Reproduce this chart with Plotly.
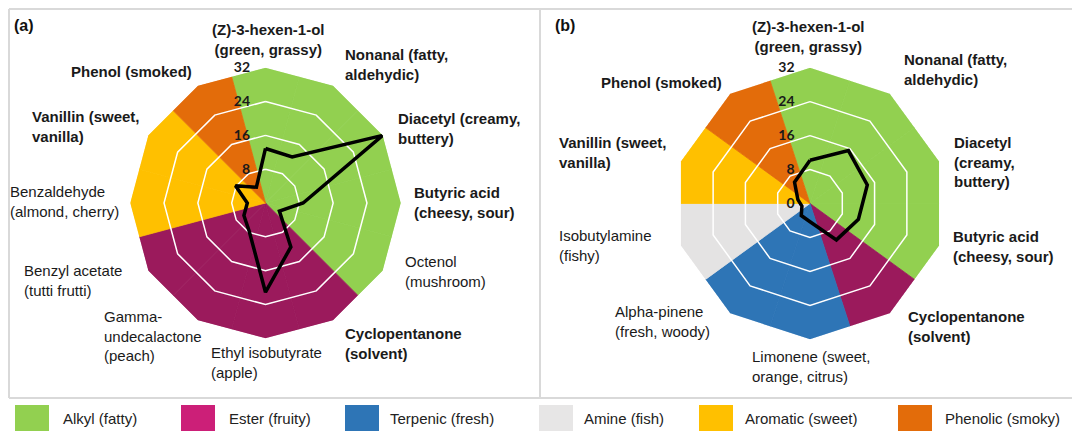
import plotly.graph_objects as go

# ---------------- data ----------------
cats_a = ["(Z)-3-hexen-1-ol", "Nonanal", "Diacetyl", "Butyric acid", "Octenol",
          "Cyclopentanone", "Ethyl isobutyrate", "Gamma-undecalactone",
          "Benzyl acetate", "Benzaldehyde", "Vanillin", "Phenol"]
labels_a = ["(Z)-3-hexen-1-ol<br>(green, grassy)", "Nonanal (fatty,<br>aldehydic)",
            "Diacetyl (creamy,<br>buttery)", "Butyric acid<br>(cheesy, sour)",
            "Octenol<br>(mushroom)", "Cyclopentanone<br>(solvent)",
            "Ethyl isobutyrate<br>(apple)", "Gamma-<br>undecalactone<br>(peach)",
            "Benzyl acetate<br>(tutti frutti)", "Benzaldehyde<br>(almond, cherry)",
            "Vanillin (sweet,<br>vanilla)", "Phenol (smoked)"]
groups_a = ["Alkyl", "Alkyl", "Alkyl", "Alkyl", "Alkyl",
            "Ester", "Ester", "Ester", "Ester",
            "Aromatic", "Aromatic", "Phenolic"]
values_a = [12.9, 12.6, 32, 8.9, 3.8, 12.0, 21.1, 7.7, 5.9, 4.3, 8.2, 4.3]

cats_b = ["(Z)-3-hexen-1-ol", "Nonanal", "Diacetyl", "Butyric acid", "Cyclopentanone",
          "Limonene", "Alpha-pinene", "Isobutylamine", "Vanillin", "Phenol"]
labels_b = ["(Z)-3-hexen-1-ol<br>(green, grassy)", "Nonanal (fatty,<br>aldehydic)",
            "Diacetyl<br>(creamy,<br>buttery)", "Butyric acid<br>(cheesy, sour)",
            "Cyclopentanone<br>(solvent)", "Limonene (sweet,<br>orange, citrus)",
            "Alpha-pinene<br>(fresh, woody)", "Isobutylamine<br>(fishy)",
            "Vanillin (sweet,<br>vanilla)", "Phenol (smoked)"]
groups_b = ["Alkyl", "Alkyl", "Alkyl", "Alkyl", "Ester",
            "Terpenic", "Terpenic", "Amine", "Aromatic", "Phenolic"]
values_b = [10.2, 15.4, 14.2, 12.0, 10.6, 4.3, 3.5, 2.0, 3.0, 6.2]

radial_max = 32
ring_values = [8, 16, 24]
ticks_a = [8, 16, 24, 32]
ticks_b = [0, 8, 16, 24, 32]

legend_groups = ["Alkyl", "Ester", "Terpenic", "Amine", "Aromatic", "Phenolic"]
legend_names = ["Alkyl (fatty)", "Ester (fruity)", "Terpenic (fresh)", "Amine (fish)",
                "Aromatic (sweet)", "Phenolic (smoky)"]

# ---------------- styles ----------------
W, H = 1080, 447
OFF = 8  # page body margin: figure origin sits 8px right/down in the window
sector_colors = {"Alkyl": "#92d050", "Ester": "#9b1a5c", "Terpenic": "#2e75b6",
                 "Amine": "#e4e3e3", "Aromatic": "#ffc000", "Phenolic": "#e36c0a"}
legend_colors = {"Alkyl": "#92d050", "Ester": "#cc1f78", "Terpenic": "#2e75b6",
                 "Amine": "#e7e6e6", "Aromatic": "#ffc000", "Phenolic": "#e36c0a"}
bold_a = [True, True, True, True, False, True, False, False, False, False, True, True]
bold_b = [True, True, True, True, True, False, False, False, True, True]
# label placement (window pixel x, pixel y of block centre, anchor)
place_a = [(268.5, 39.5, "center"), (343, 64, "left"), (396, 128, "left"),
           (412, 203, "left"), (403, 271.5, "left"), (343, 343, "left"),
           (209, 362.5, "left"), (102, 336, "left"), (22, 280, "left"),
           (8, 201.5, "left"), (30, 126.5, "left"), (69, 72, "left")]
place_b = [(808, 37, "center"), (902, 70, "left"), (952, 161.5, "left"),
           (951, 246, "left"), (906, 326.5, "left"), (750, 366, "left"),
           (613, 321.5, "left"), (557, 245.5, "left"), (557, 152.5, "left"),
           (599, 83, "left")]

def px(x):
    return (x - OFF) / W

def py(y):
    return 1 - (y - OFF) / H

fig = go.Figure()

def add_radar(subplot, cats, groups, vals):
    cols = [sector_colors[g] for g in groups]
    fig.add_trace(go.Barpolar(r=[radial_max] * len(cats), theta=cats, subplot=subplot,
                              marker=dict(color=cols, line=dict(color=cols, width=0.8)),
                              showlegend=False, hoverinfo="skip"))
    for rv in ring_values:
        fig.add_trace(go.Scatterpolar(r=[rv] * (len(cats) + 1), theta=cats + [cats[0]],
                                      subplot=subplot, mode="lines",
                                      line=dict(color="white", width=1.5),
                                      showlegend=False, hoverinfo="skip"))
    fig.add_trace(go.Scatterpolar(r=vals + [vals[0]], theta=cats + [cats[0]],
                                  subplot=subplot, mode="lines",
                                  line=dict(color="black", width=3.5),
                                  showlegend=False))

add_radar("polar", cats_a, groups_a, values_a)
add_radar("polar2", cats_b, groups_b, values_b)

def polar_layout(cx, cy, R, tickvals):
    return dict(
        domain=dict(x=[px(cx - R), px(cx + R)], y=[py(cy + R), py(cy - R)]),
        gridshape="linear", bgcolor="rgba(0,0,0,0)", bargap=0,
        angularaxis=dict(type="category", rotation=90, direction="clockwise",
                         showgrid=False, showline=False, showticklabels=False, ticks=""),
        radialaxis=dict(range=[0, radial_max], angle=90, tickangle=90,
                        tickvals=tickvals, showgrid=False, showline=False,
                        ticks="outside", ticklen=10, tickcolor="rgba(0,0,0,0)",
                        side="counterclockwise",
                        tickfont=dict(family="Lato, Liberation Sans", size=14,
                                      color="#1a1a1a", weight="bold")),
    )

def add_labels(labels, places, bolds):
    for txt, (x, y, anchor), b in zip(labels, places, bolds):
        fig.add_annotation(x=px(x), y=py(y), xref="paper", yref="paper", text=txt,
                           showarrow=False, xanchor=anchor, yanchor="middle", align=anchor,
                           font=dict(family="Liberation Sans, Arial", size=15,
                                     color="#1a1a1a", weight="bold" if b else "normal"))

add_labels(labels_a, place_a, bold_a)
add_labels(labels_b, place_b, bold_b)

for txt, x in [("(a)", 12), ("(b)", 553)]:
    fig.add_annotation(x=px(x), y=py(25), xref="paper", yref="paper", text=txt,
                       showarrow=False, xanchor="left", yanchor="middle",
                       font=dict(family="Liberation Sans, Arial", size=16,
                                 color="#111", weight="bold"))

# panel frames
frame_col = "#d9d9d9"
shapes = [
    dict(type="line", xref="paper", yref="paper", x0=px(9), x1=px(1077),
         y0=py(9), y1=py(9), line=dict(color=frame_col, width=2)),
    dict(type="line", xref="paper", yref="paper", x0=px(9), x1=px(1077),
         y0=py(398), y1=py(398), line=dict(color=frame_col, width=2)),
    dict(type="line", xref="paper", yref="paper", x0=px(9), x1=px(9),
         y0=py(398), y1=py(9), line=dict(color=frame_col, width=2)),
    dict(type="line", xref="paper", yref="paper", x0=px(1077), x1=px(1077),
         y0=py(398), y1=py(9), line=dict(color=frame_col, width=2)),
    dict(type="line", xref="paper", yref="paper", x0=px(540), x1=px(540),
         y0=py(398), y1=py(9), line=dict(color=frame_col, width=2)),
]

# custom legend
sq_x = [15, 181, 345, 539, 699, 898]
txt_x = [61, 227, 388, 582, 743, 943]
ly = 418
for g, name, sx, tx in zip(legend_groups, legend_names, sq_x, txt_x):
    shapes.append(dict(type="rect", xref="paper", yref="paper", x0=px(sx), x1=px(sx + 34),
                       y0=py(ly + 13), y1=py(ly - 13),
                       fillcolor=legend_colors[g], line=dict(width=0)))
    fig.add_annotation(x=px(tx), y=py(ly), xref="paper", yref="paper", text=name,
                       showarrow=False, xanchor="left", yanchor="middle",
                       font=dict(family="Liberation Sans Narrow, Liberation Sans", size=15,
                                 color="#222"))

fig.update_layout(
    width=W, height=H, autosize=False,
    margin=dict(l=0, r=0, t=0, b=0),
    paper_bgcolor="white", plot_bgcolor="white",
    polar=polar_layout(265.5, 203, 135.3, ticks_a),
    polar2=polar_layout(810, 203.5, 135.8, ticks_b),
    shapes=shapes,
    showlegend=False,
)

fig.write_html("out.html")
